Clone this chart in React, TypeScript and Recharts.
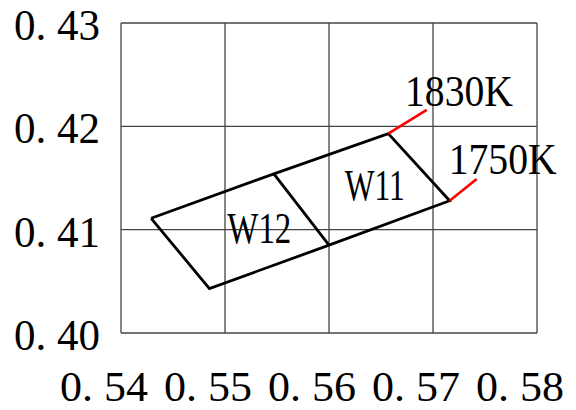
import { ScatterChart, Scatter, XAxis, YAxis, CartesianGrid } from 'recharts'

// chromaticity axes
const xTicks = [0.54, 0.55, 0.56, 0.57, 0.58]
const yTicks = [0.4, 0.41, 0.42, 0.43]
const xTickLabels = ['0. 54', '0. 55', '0. 56', '0. 57', '0. 58']
const yTickLabels = ['0. 40', '0. 41', '0. 42', '0. 43']

// bin outline W12 + W11 (left, bottom, mid-bottom, right-bottom, right-top, mid-top)
const outlineX = [0.5429, 0.5485, 0.56, 0.5716, 0.5657, 0.5547, 0.5429]
const outlineY = [0.4111, 0.4043, 0.4085, 0.4128, 0.4193, 0.4154, 0.4111]

// divider between W12 and W11
const dividerX = [0.5547, 0.56]
const dividerY = [0.4154, 0.4085]

// CCT leader lines
const lead1830X = [0.5657, 0.5694]
const lead1830Y = [0.4193, 0.4216]
const lead1750X = [0.5716, 0.5742]
const lead1750Y = [0.4128, 0.4149]

// text labels (centre of text)
const labelNames = ['W12', 'W11', '1830K', '1750K']
const labelX = [0.5533, 0.5644, 0.5725, 0.5767]
const labelY = [0.4102, 0.4143, 0.4234, 0.4168]

const FONT = '"Liberation Serif", "Times New Roman", serif'
const labelWidths: Record<string, number> = { W12: 64, W11: 60, '1830K': 108, '1750K': 108 }

const toPts = (xs: number[], ys: number[]) => xs.map((x, i) => ({ x, y: ys[i] }))
const outline = toPts(outlineX, outlineY)
const divider = toPts(dividerX, dividerY)
const lead1830 = toPts(lead1830X, lead1830Y)
const lead1750 = toPts(lead1750X, lead1750Y)
const labels = labelNames.map((label, i) => ({ x: labelX[i], y: labelY[i], label }))

const XTick = (props: any) => {
  const idx = xTicks.indexOf(props.payload.value)
  return (
    <text
      x={props.x - 17}
      y={props.y + 68}
      textAnchor="middle"
      fontFamily={FONT}
      fontSize={42}
      fill="#000"
      textLength={88}
      lengthAdjust="spacingAndGlyphs"
    >
      {xTickLabels[idx]}
    </text>
  )
}

const YTick = (props: any) => {
  const idx = yTicks.findIndex((t) => Math.abs(t - props.payload.value) < 1e-9)
  return (
    <text
      x={props.x - 21}
      y={props.y + 17}
      textAnchor="end"
      fontFamily={FONT}
      fontSize={44}
      fill="#000"
      textLength={86}
      lengthAdjust="spacingAndGlyphs"
    >
      {yTickLabels[idx]}
    </text>
  )
}

const LabelShape = (props: any) => (
  <text
    x={props.cx}
    y={props.cy + 15}
    textAnchor="middle"
    fontFamily={FONT}
    fontSize={44}
    fill="#000"
    textLength={labelWidths[props.payload.label]}
    lengthAdjust="spacingAndGlyphs"
  >
    {props.payload.label}
  </text>
)

const NoDot = () => <g />

export default function App() {
  return (
    <div style={{ position: 'absolute', left: 0, top: 0, background: '#fff' }}>
      <ScatterChart width={576} height={410} margin={{ top: 23, right: 39, bottom: 0, left: 0 }}>
        <CartesianGrid stroke="#444" strokeWidth={1.3} />
        <XAxis
          type="number"
          dataKey="x"
          domain={[0.54, 0.58]}
          ticks={xTicks}
          axisLine={false}
          tickLine={false}
          tickSize={0}
          tickMargin={0}
          height={77}
          tick={<XTick />}
        />
        <YAxis
          type="number"
          dataKey="y"
          domain={[0.4, 0.43]}
          ticks={yTicks}
          axisLine={false}
          tickLine={false}
          tickSize={0}
          tickMargin={0}
          width={121}
          tick={<YTick />}
        />
        <Scatter data={outline} line={{ stroke: '#000', strokeWidth: 2.8 }} shape={<NoDot />} isAnimationActive={false} />
        <Scatter data={divider} line={{ stroke: '#000', strokeWidth: 2.8 }} shape={<NoDot />} isAnimationActive={false} />
        <Scatter data={lead1830} line={{ stroke: '#ff0000', strokeWidth: 2.6 }} shape={<NoDot />} isAnimationActive={false} />
        <Scatter data={lead1750} line={{ stroke: '#ff0000', strokeWidth: 2.6 }} shape={<NoDot />} isAnimationActive={false} />
        <Scatter data={labels} shape={<LabelShape />} isAnimationActive={false} />
      </ScatterChart>
    </div>
  )
}
